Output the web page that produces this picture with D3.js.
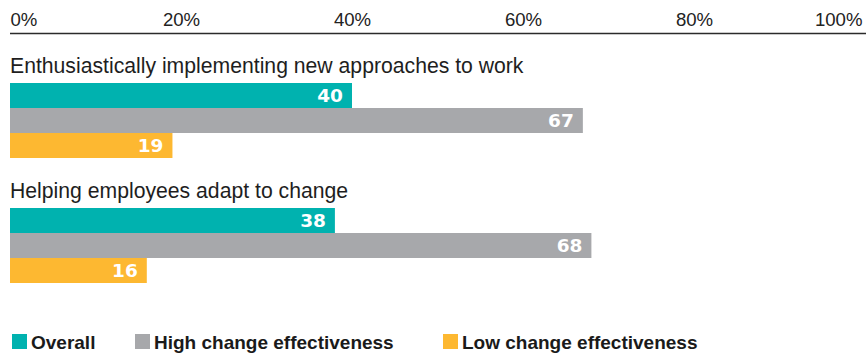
<!DOCTYPE html>
<html>
<head>
<meta charset="utf-8">
<script src="https://cdn.jsdelivr.net/npm/d3@7"></script>
<style>
  html, body { margin: 0; padding: 0; background: #fff; }
  svg { display: block; }
</style>
</head>
<body>
<svg id="chart" width="866" height="356"></svg>
<script>
// Survey categories and the share (%) reported for each group
const categories = [
  "Enthusiastically implementing new approaches to work",
  "Helping employees adapt to change"
];
const seriesNames = ["Overall", "High change effectiveness", "Low change effectiveness"];
const overall = [40, 38];
const highEffectiveness = [67, 68];
const lowEffectiveness = [19, 16];
const tickValues = [0, 20, 40, 60, 80, 100];
const tickLabels = ["0%", "20%", "40%", "60%", "80%", "100%"];
const colors = ["#00b2af", "#a7a8ab", "#fdb831"];

const seriesValues = [overall, highEffectiveness, lowEffectiveness];
const rows = categories.map((c, i) => ({
  category: c,
  values: seriesNames.map((s, j) => ({ series: s, value: seriesValues[j][i] }))
}));

const svg = d3.select("#chart");
const x = d3.scaleLinear().domain([0, 100]).range([10, 865]);
const yGroup = d3.scaleBand().domain(categories).range([50, 300]);
const yBar = d3.scaleBand().domain(seriesNames).range([0, 75]).padding(0);
const color = d3.scaleOrdinal().domain(seriesNames).range(colors);

// Percentage axis across the top
const axis = d3.axisTop(x)
  .tickValues(tickValues)
  .tickFormat((d, i) => tickLabels[i])
  .tickSize(0)
  .tickPadding(8);

const axisG = svg.append("g")
  .attr("transform", "translate(0,33.5)")
  .call(axis);
axisG.select(".domain")
  .attr("d", "M10,0H866")
  .attr("stroke", "#2b2b2b")
  .attr("stroke-width", 1.6);
axisG.selectAll(".tick text")
  .attr("font-family", "'Liberation Sans', Arial, sans-serif")
  .attr("font-size", 18.6)
  .attr("fill", "#222")
  .attr("text-anchor", (d, i) => i === 0 ? "start" : (i === tickValues.length - 1 ? "end" : "middle"))
  .attr("dx", (d, i) => i === tickValues.length - 1 ? -3 : 0);

// One block per category: title line followed by three stacked bars
const groups = svg.selectAll("g.group")
  .data(rows)
  .join("g")
  .attr("class", "group")
  .attr("transform", d => `translate(0,${yGroup(d.category)})`);

groups.append("text")
  .attr("x", 10)
  .attr("y", 23)
  .attr("font-family", "'Liberation Sans', Arial, sans-serif")
  .attr("font-size", 21.2)
  .attr("fill", "#1e1e1e")
  .text(d => d.category);

const bars = groups.selectAll("g.bar")
  .data(d => d.values)
  .join("g")
  .attr("class", "bar")
  .attr("transform", d => `translate(0,${33 + yBar(d.series)})`);

bars.append("rect")
  .attr("x", x(0))
  .attr("y", 0)
  .attr("width", d => x(d.value) - x(0))
  .attr("height", yBar.bandwidth())
  .attr("fill", d => color(d.series));

bars.append("text")
  .attr("x", d => x(d.value) - 9)
  .attr("y", yBar.bandwidth() / 2 + 6.5)
  .attr("text-anchor", "end")
  .attr("font-family", "'DejaVu Sans', sans-serif")
  .attr("font-weight", "bold")
  .attr("font-size", 18.5)
  .attr("fill", "#fff")
  .text(d => d.value);

// Legend along the bottom
const legendX = [12, 135, 443];
const legend = svg.selectAll("g.legend")
  .data(seriesNames)
  .join("g")
  .attr("class", "legend")
  .attr("transform", (d, i) => `translate(${legendX[i]},334)`);

legend.append("rect")
  .attr("width", 15)
  .attr("height", 15)
  .attr("fill", d => color(d));

legend.append("text")
  .attr("x", 19)
  .attr("y", 15)
  .attr("font-family", "'Liberation Sans', Arial, sans-serif")
  .attr("font-weight", "bold")
  .attr("font-size", 19)
  .attr("fill", "#1a1a1a")
  .text(d => d);
</script>
</body>
</html>
